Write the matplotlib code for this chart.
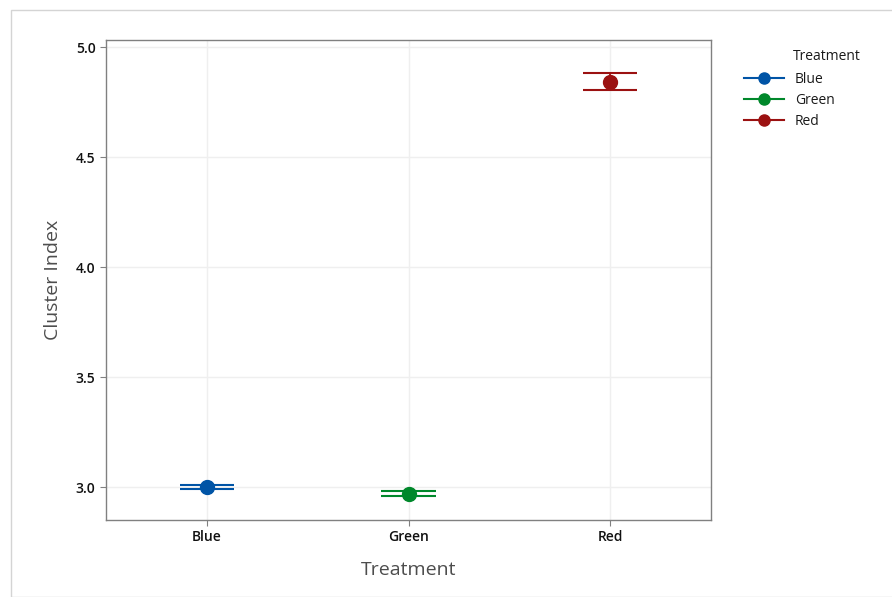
import matplotlib
matplotlib.use("Agg")
import matplotlib.pyplot as plt
from matplotlib.lines import Line2D
from matplotlib.patches import Rectangle

plt.rcParams['font.family'] = ['Open Sans', 'DejaVu Sans']

categories = ["Blue", "Green", "Red"]
means = [3.002, 2.968, 4.841]
lower = [2.991, 2.959, 4.805]
upper = [3.009, 2.982, 4.882]
colors = ["#0054a6", "#00882b", "#9b1111"]
yticks = [3.0, 3.5, 4.0, 4.5, 5.0]

fig = plt.figure(figsize=(8.92, 5.97), dpi=100)
ax = fig.add_axes([106/892, 1-520/597, (711-106)/892, (520-40)/597])

# outer frame
fig.patches.append(Rectangle((11/892, 0), 1, 1-10/597, transform=fig.transFigure,
                             fill=False, edgecolor="#d4d4d4", linewidth=1.0))

cap_half = 0.135
for i, (c, m, lo, hi, col) in enumerate(zip(categories, means, lower, upper, colors)):
    ax.vlines(i, lo, hi, color=col, linewidth=1.3, zorder=3)
    ax.hlines([lo, hi], i - cap_half, i + cap_half, color=col, linewidth=1.5, zorder=3)
    ax.plot(i, m, 'o', color=col, markersize=10, zorder=4)

ax.set_xlim(-0.5, 2.5)
ax.set_ylim(2.85, 5.032)
ax.set_xticks(range(len(categories)))
ax.set_xticklabels(categories)
ax.set_yticks(yticks)
ax.set_yticklabels([f"{v:.1f}" for v in yticks])
ax.grid(True, color="#efefef", linewidth=1.0, zorder=0)
ax.set_axisbelow(True)
for s in ax.spines.values():
    s.set_color("#808080")
    s.set_linewidth(1.0)
ax.tick_params(axis='both', colors="#808080", labelcolor="#111111", labelsize=10, length=4)
for lab in ax.get_xticklabels() + ax.get_yticklabels():
    lab.set_fontweight(600)
ax.set_xlabel("Treatment", fontsize=14, color="#4d4d4d", labelpad=12)
ax.set_ylabel("Cluster Index", fontsize=14, color="#4d4d4d", labelpad=10)

handles = [Line2D([0], [0], color=col, marker='o', markersize=8, linewidth=1.5)
           for col in colors]
leg = fig.legend(handles, categories, loc="upper left",
                 bbox_to_anchor=(738/892, 1-66/597), frameon=False, fontsize=10,
                 handlelength=2.9, labelspacing=0.45,
                 borderaxespad=0, handletextpad=0.8)
for t in leg.get_texts():
    t.set_color("#1a1a1a")
fig.text(793/892, 1-56/597, "Treatment", fontsize=10, color="#1a1a1a",
         ha="left", va="center")

fig.savefig("out.png", dpi=100)
